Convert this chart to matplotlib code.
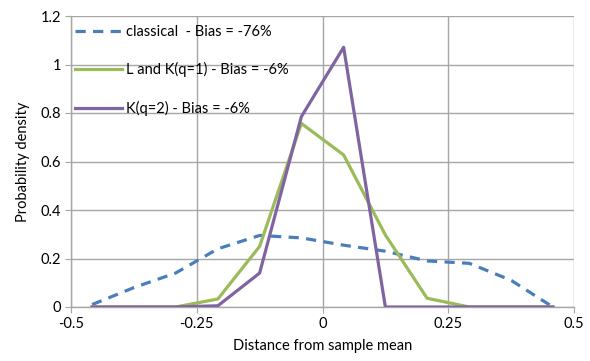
import numpy as np
import matplotlib
matplotlib.use("Agg")
import matplotlib.pyplot as plt

# bin centres (distance from sample mean)
x_vals = [-0.458, -0.375, -0.292, -0.208, -0.125, -0.042,
          0.042, 0.125, 0.208, 0.292, 0.375, 0.458]

classical = [0.01, 0.08, 0.14, 0.24, 0.295, 0.285,
             0.255, 0.23, 0.19, 0.18, 0.11, 0.0]
l_and_k1 = [0.0, 0.0, 0.0, 0.033, 0.25, 0.757,
            0.627, 0.297, 0.036, 0.0, 0.0, 0.0]
k_q2 = [0.0, 0.0, 0.0, 0.005, 0.14, 0.785,
        1.071, 0.0, 0.0, 0.0, 0.0, 0.0]

labels = ["classical  - Bias = -76%",
          "L and K(q=1) - Bias = -6%",
          "K(q=2) - Bias = -6%"]

x_ticks = [-0.5, -0.25, 0, 0.25, 0.5]
x_ticklabels = ["-0.5", "-0.25", "0", "0.25", "0.5"]
y_ticks = [0, 0.2, 0.4, 0.6, 0.8, 1.0, 1.2]
y_ticklabels = ["0", "0.2", "0.4", "0.6", "0.8", "1", "1.2"]

plt.rcParams['font.family'] = ['Lato', 'DejaVu Sans']

fig = plt.figure(figsize=(5.9, 3.61), dpi=100)
ax = fig.add_axes([71 / 590, 1 - 307 / 361, 503 / 590, 291 / 361])

grid_col = "#a6a6a6"
ax.plot(x_vals, classical, color="#4a7ebb", lw=2.3, linestyle=(0, (3.2, 2.3)),
        label=labels[0], zorder=3)
ax.plot(x_vals, l_and_k1, color="#9bbb59", lw=2.3, label=labels[1], zorder=3)
ax.plot(x_vals, k_q2, color="#8064a2", lw=2.3, label=labels[2], zorder=4)

ax.set_xlim(-0.5, 0.5)
ax.set_ylim(0, 1.2)
ax.set_xticks(x_ticks)
ax.set_xticklabels(x_ticklabels)
ax.set_yticks(y_ticks)
ax.set_yticklabels(y_ticklabels)
ax.grid(True, color=grid_col, lw=1)
ax.set_axisbelow(True)
for s in ["top", "right"]:
    ax.spines[s].set_visible(False)
for s in ["left", "bottom"]:
    ax.spines[s].set_color(grid_col)
    ax.spines[s].set_linewidth(1)
ax.tick_params(axis="both", length=4, color=grid_col, labelsize=10.5,
               labelcolor="black", pad=3)

ax.set_xlabel("Distance from sample mean", fontsize=10.5, labelpad=6)
ax.set_ylabel("Probability density", fontsize=10.5, labelpad=8)

leg = ax.legend(loc="upper left", bbox_to_anchor=(0.0, 0.985), frameon=False,
                fontsize=10.5, handlelength=3.2, handletextpad=0.3,
                labelspacing=1.62, borderpad=0.3, borderaxespad=0.0)

fig.savefig("out.png", dpi=100)
